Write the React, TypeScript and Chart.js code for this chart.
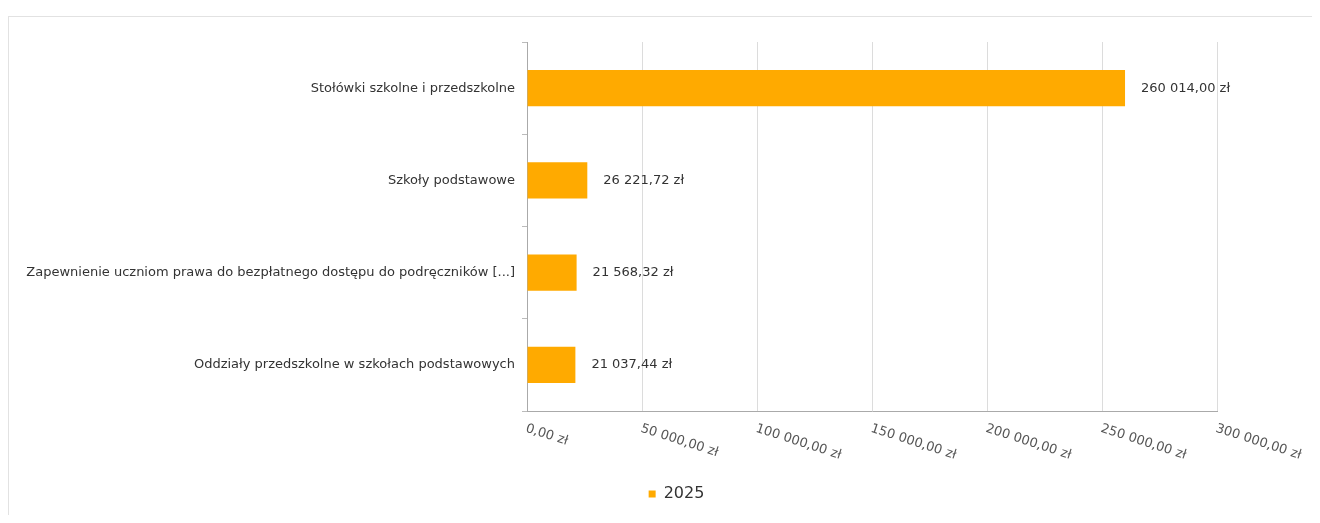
import React, { useEffect, useRef } from "react";
import { Chart, registerables } from "chart.js";

Chart.register(...registerables);

const categories = [
  "Stołówki szkolne i przedszkolne",
  "Szkoły podstawowe",
  "Zapewnienie uczniom prawa do bezpłatnego dostępu do podręczników [...]",
  "Oddziały przedszkolne w szkołach podstawowych",
];
const values2025 = [260014.0, 26221.72, 21568.32, 21037.44];
const seriesLabel = "2025";
const xMin = 0;
const xMax = 300000;
const xStep = 50000;

const BAR_COLOR = "#FFAA00";
const FONT = "'DejaVu Sans', Verdana, sans-serif";

function formatZl(v: number): string {
  const fixed = v.toFixed(2);
  const [intPart, dec] = fixed.split(".");
  const withSpaces = intPart.replace(/\B(?=(\d{3})+(?!\d))/g, " ");
  return `${withSpaces},${dec} zł`;
}

const framePlugin = {
  id: "frame",
  beforeDraw(chart: any) {
    const ctx = chart.ctx;
    ctx.save();
    ctx.strokeStyle = "#e2e2e2";
    ctx.lineWidth = 1;
    ctx.beginPath();
    ctx.moveTo(0, 8.5);
    ctx.lineTo(chart.width, 8.5);
    ctx.moveTo(0.5, 8.5);
    ctx.lineTo(0.5, chart.height);
    ctx.stroke();
    ctx.restore();
  },
};

const legendShiftPlugin = {
  id: "legendShift",
  afterLayout(chart: any) {
    const lg = chart.legend;
    if (lg) {
      lg.left += 64;
      lg.right += 64;
    }
  },
};

const xTickPlugin = {
  id: "rotatedXTicks",
  afterDraw(chart: any) {
    const scale = chart.scales.x;
    const ctx = chart.ctx;
    ctx.save();
    ctx.fillStyle = "#555";
    ctx.font = `13px ${FONT}`;
    ctx.textAlign = "left";
    ctx.textBaseline = "top";
    const angle = (18 * Math.PI) / 180;
    scale.ticks.forEach((t: any) => {
      const x = scale.getPixelForValue(t.value);
      const y = chart.chartArea.bottom + 11;
      ctx.save();
      ctx.translate(x + 1, y);
      ctx.rotate(angle);
      ctx.fillText(formatZl(t.value), 0, 0);
      ctx.restore();
    });
    ctx.restore();
  },
};

const valueLabelPlugin = {
  id: "valueLabels",
  afterDatasetsDraw(chart: any) {
    const ctx = chart.ctx;
    const meta = chart.getDatasetMeta(0);
    const data = chart.data.datasets[0].data as number[];
    ctx.save();
    ctx.fillStyle = "#333";
    ctx.font = `13px ${FONT}`;
    ctx.textAlign = "left";
    ctx.textBaseline = "middle";
    meta.data.forEach((bar: any, i: number) => {
      ctx.fillText(formatZl(data[i]), bar.x + 16, bar.y);
    });
    ctx.restore();
  },
};

export default function App() {
  const canvasRef = useRef<HTMLCanvasElement | null>(null);

  useEffect(() => {
    if (!canvasRef.current) return;
    const chart = new Chart(canvasRef.current, {
      type: "bar",
      data: {
        labels: categories,
        datasets: [
          {
            label: seriesLabel,
            data: values2025,
            backgroundColor: BAR_COLOR,
            borderWidth: 0,
            categoryPercentage: 0.8,
            barPercentage: 0.49,
          },
        ],
      },
      options: {
        indexAxis: "y",
        responsive: true,
        maintainAspectRatio: false,
        animation: false,
        layout: { padding: { top: 34, right: 95, bottom: 3, left: 0 } },
        plugins: {
          legend: {
            position: "bottom",
            labels: {
              boxWidth: 7,
              boxHeight: 7,
              padding: 10,
              color: "#333",
              font: { size: 16, family: FONT },
            },
          },
          tooltip: { enabled: false },
        },
        scales: {
          x: {
            type: "linear",
            min: xMin,
            max: xMax,
            ticks: { display: false, stepSize: xStep },
            grid: { color: "#dcdcdc", drawTicks: false },
            border: { color: "#aaa" },
            afterFit: (s: any) => {
              s.height = 65;
            },
          },
          y: {
            ticks: {
              color: "#333",
              font: { size: 13, family: FONT },
              padding: 7,
            },
            grid: {
              display: true,
              drawOnChartArea: false,
              tickLength: 5,
              offset: true,
              color: "#bbb",
            },
            border: { color: "#aaa" },
            afterFit: (s: any) => {
              s.width = 519;
            },
          },
        },
      },
      plugins: [framePlugin, legendShiftPlugin, xTickPlugin, valueLabelPlugin],
    });
    return () => chart.destroy();
  }, []);

  return (
    <div style={{ position: "relative", width: "100%", height: 507 }}>
      <canvas ref={canvasRef} />
    </div>
  );
}
